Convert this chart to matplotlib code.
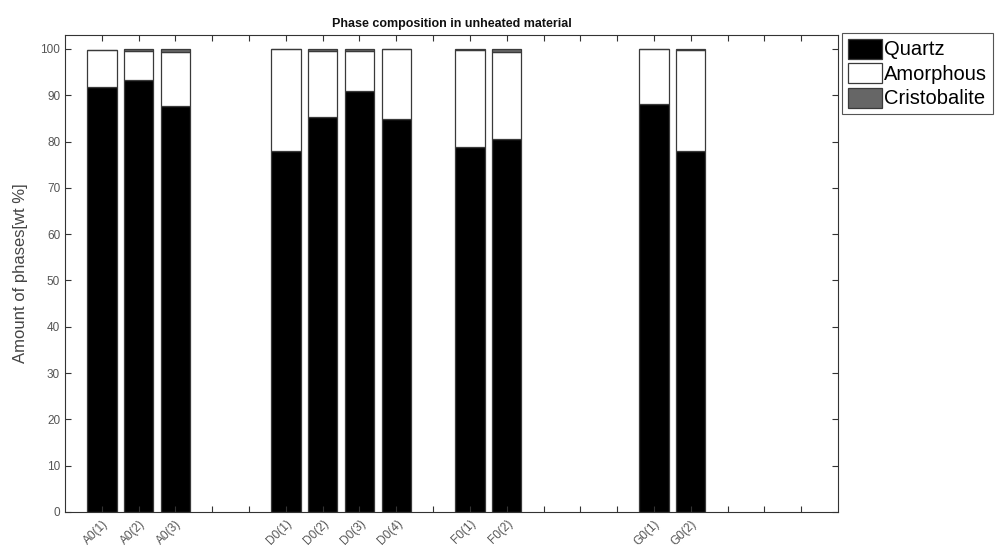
import matplotlib
matplotlib.use("Agg")
import matplotlib.pyplot as plt
import numpy as np

plt.rcParams['font.family'] = ['Liberation Sans', 'DejaVu Sans']

# Data
samples = ["A0(1)", "A0(2)", "A0(3)", "D0(1)", "D0(2)", "D0(3)", "D0(4)",
           "F0(1)", "F0(2)", "G0(1)", "G0(2)"]
positions = [1, 2, 3, 6, 7, 8, 9, 11, 12, 16, 17]
quartz = [91.7, 93.3, 87.6, 78.0, 85.3, 90.9, 84.8, 78.8, 80.6, 88.1, 78.0]
amorphous = [8.0, 6.3, 11.7, 22.0, 14.2, 8.6, 15.2, 20.9, 18.8, 11.9, 21.7]
cristobalite = [0.0, 0.4, 0.6, 0.0, 0.5, 0.5, 0.0, 0.3, 0.6, 0.0, 0.3]
phases = ["Quartz", "Amorphous", "Cristobalite"]
colors = ["#000000", "#ffffff", "#666666"]
n_ticks = 20

fig = plt.figure(figsize=(10.03, 5.51), dpi=100)
ax = fig.add_axes([65/1003, (551-512)/551, (838-65)/1003, 477/551])

q = np.array(quartz)
a = np.array(amorphous)
c = np.array(cristobalite)
edge = "#3a3a3a"
ax.bar(positions, q, width=0.8, color=colors[0], edgecolor=edge, linewidth=0.9, label=phases[0])
ax.bar(positions, a, width=0.8, bottom=q, color=colors[1], edgecolor=edge, linewidth=0.9, label=phases[1])
ax.bar(positions, c, width=0.8, bottom=q + a, color=colors[2], edgecolor=edge, linewidth=0.9, label=phases[2])

ax.set_xlim(0, 21)
ax.set_ylim(0, 103)
ticks = list(range(1, n_ticks + 1))
ax.set_xticks(ticks)
labels = [""] * n_ticks
for p, s in zip(positions, samples):
    labels[p - 1] = s
ax.set_xticklabels(labels, rotation=45, ha='right', rotation_mode='anchor',
                   fontsize=8.6, color='#555555')
ax.set_yticks(range(0, 101, 10))
ax.tick_params(axis='y', labelsize=8.5, labelcolor='#555555')
ax.tick_params(direction='in', top=True, right=True, length=4, width=0.8, color='#333333')
ax.tick_params(axis='x', pad=4)
for sp in ax.spines.values():
    sp.set_color('#333333')
    sp.set_linewidth(0.8)

ax.set_ylabel("Amount of phases[wt %]", fontsize=12, color='#444444', labelpad=9)
ax.set_title("Phase composition in unheated material", fontsize=9, fontweight='bold',
             color='#111111', pad=6)

leg = ax.legend(loc='upper left', bbox_to_anchor=(1.005, 1.005), borderaxespad=0,
                fontsize=14.5, handlelength=1.7, handleheight=1.15, labelspacing=0.18,
                handletextpad=0.1, borderpad=0.3, fancybox=False, framealpha=1,
                edgecolor='#555555')
leg.get_frame().set_linewidth(0.8)

fig.savefig("out.png", dpi=100)
